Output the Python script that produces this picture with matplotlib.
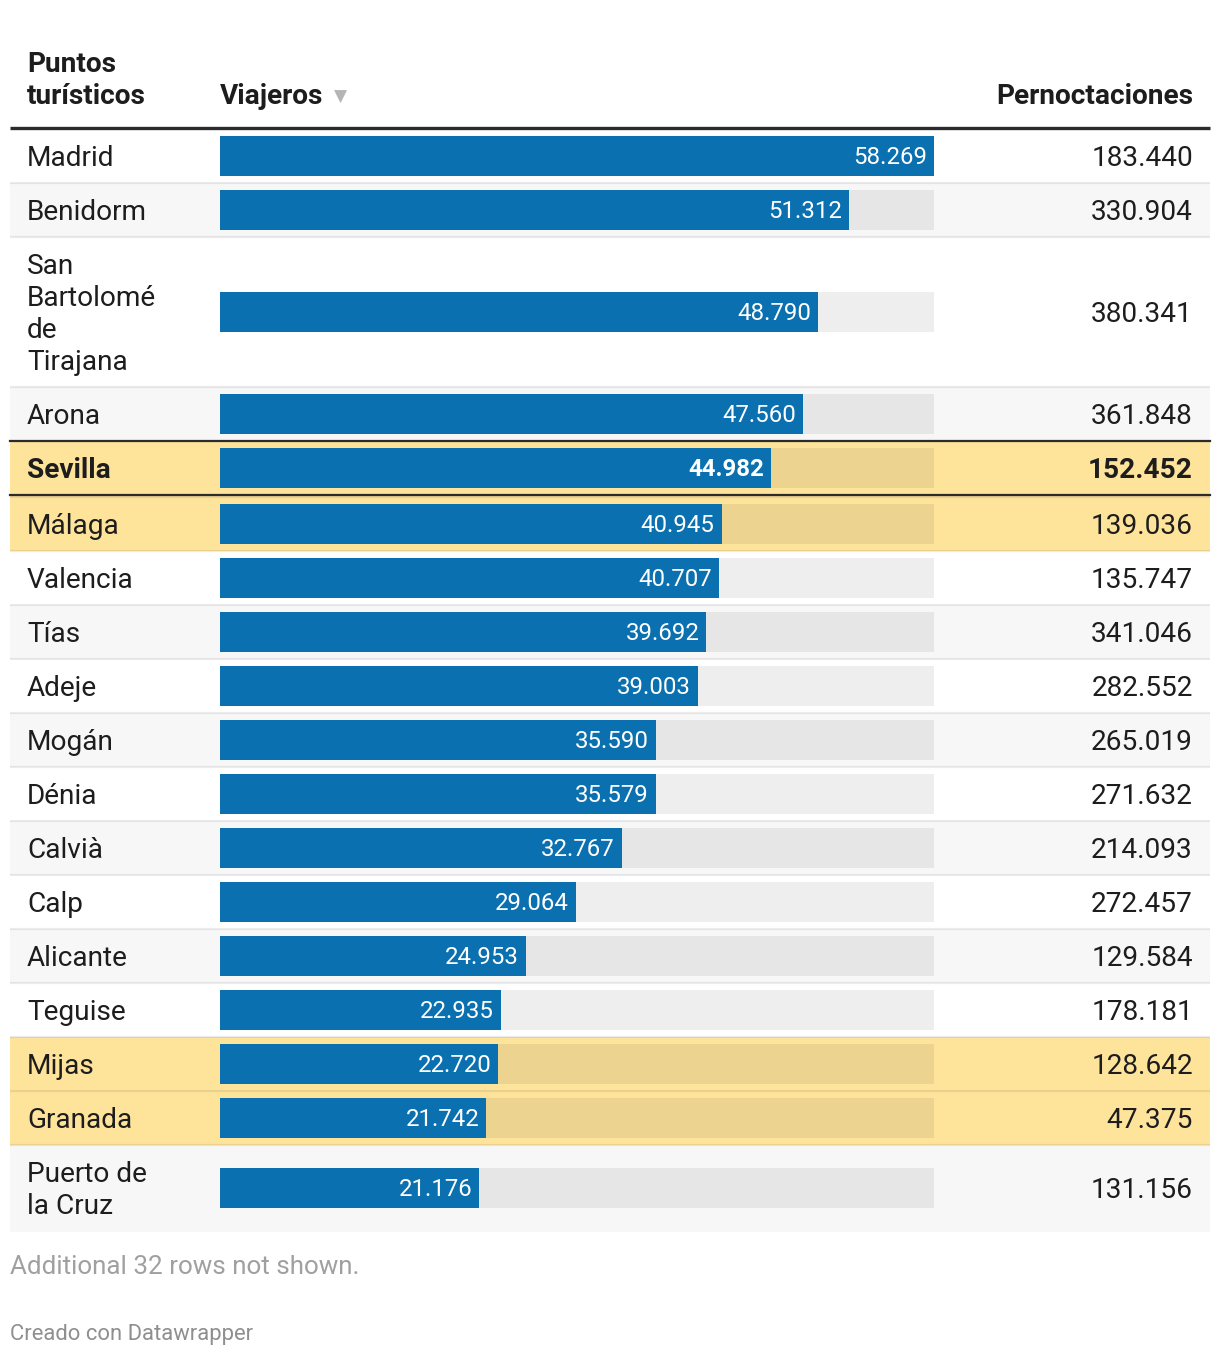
import numpy as np
import matplotlib.pyplot as plt
from matplotlib.patches import Rectangle

# data
lugares = ["Madrid", "Benidorm", "San\nBartolomé\nde\nTirajana", "Arona", "Sevilla",
           "Málaga", "Valencia", "Tías", "Adeje", "Mogán", "Dénia", "Calvià", "Calp",
           "Alicante", "Teguise", "Mijas", "Granada", "Puerto de\nla Cruz"]
viajeros = [58269, 51312, 48790, 47560, 44982, 40945, 40707, 39692, 39003, 35590,
            35579, 32767, 29064, 24953, 22935, 22720, 21742, 21176]
pernoctaciones = [183440, 330904, 380341, 361848, 152452, 139036, 135747, 341046,
                  282552, 265019, 271632, 214093, 272457, 129584, 178181, 128642,
                  47375, 131156]
destacados = ["Sevilla", "Málaga", "Mijas", "Granada"]
negrita = ["Sevilla"]

def fmt(v):
    return f"{v:,}".replace(",", ".")

W, H = 1220, 1356
PX = 0.72  # px -> pt at dpi 100
plt.rcParams['font.family'] = ['Roboto', 'DejaVu Sans']

fig = plt.figure(figsize=(W / 100, H / 100), dpi=100)
ax = fig.add_axes([0, 0, 1, 1])
ax.set_xlim(0, W)
ax.set_ylim(H, 0)
ax.axis('off')

BAR_X0, BAR_X1 = 220, 934
bx = fig.add_axes([BAR_X0 / W, 0, (BAR_X1 - BAR_X0) / W, 1])
bx.set_xlim(0, max(viajeros))
bx.set_ylim(H, 0)
bx.axis('off')
bx.patch.set_alpha(0)

TXT = '#1d1d1d'
BODY = 28 * PX
SMALL = 24 * PX
LEFT, RIGHT = 10, 1210

# header
ax.text(27, 72, "Puntos", fontsize=BODY, fontweight='bold', color=TXT, va='baseline')
ax.text(27, 104, "turísticos", fontsize=BODY, fontweight='bold', color=TXT, va='baseline')
ax.text(220, 104, "Viajeros", fontsize=BODY, fontweight='bold', color=TXT, va='baseline')
ax.text(334, 102, "▼", fontsize=17 * PX, color='#b5b5b5', va='baseline',
        family=['DejaVu Sans'])
ax.text(1193, 104, "Pernoctaciones", fontsize=BODY, fontweight='bold', color=TXT,
        va='baseline', ha='right')

y = 129
rows = []
for i, lab in enumerate(lugares):
    n = lab.count("\n") + 1
    h = 54 + (n - 1) * 32
    if n == 2:
        h = 85
    rows.append((y, h))
    y += h
    if lab in negrita:
        y += 2

for i, lab in enumerate(lugares):
    top, h = rows[i]
    c = top + h / 2
    name = lab.replace("\n", " ")
    hl = name in destacados
    bold = name in negrita
    if hl:
        bg = '#fee39b'
    elif i % 2 == 1:
        bg = '#f7f7f7'
    else:
        bg = 'white'
    ax.add_patch(Rectangle((LEFT, top - 2 if i > 0 and lugares[i - 1] in negrita else top),
                           RIGHT - LEFT, h + 2, color=bg, lw=0, zorder=0))
    if i > 0:
        ax.plot([LEFT, RIGHT], [top, top], color='black', alpha=0.08, lw=1.6, zorder=1,
                solid_capstyle='butt')
    wt = 'bold' if bold else 'normal'
    lines = lab.split("\n")
    nl = len(lines)
    for k, ln in enumerate(lines):
        ax.text(27, c + 10.5 + (k - (nl - 1) / 2) * 32, ln, fontsize=BODY, color=TXT,
                fontweight=wt, va='baseline')
    ax.text(1193, c + 10.5, fmt(pernoctaciones[i]), fontsize=BODY, color=TXT,
            fontweight=wt, va='baseline', ha='right')
    # bar
    bx.barh(c, max(viajeros), height=40, color='black', alpha=0.065, lw=0, zorder=1)
    bx.barh(c, viajeros[i], height=40, color='#0a70b0', lw=0, zorder=2)
    bx.annotate(fmt(viajeros[i]), (viajeros[i], c + 8), xytext=(-7 * PX, 0),
                textcoords='offset points', ha='right', va='baseline', color='white',
                fontsize=SMALL, fontweight=wt, zorder=3)
    if bold:
        ax.plot([LEFT, RIGHT], [top, top], color='#2b2b2b', lw=1.6, zorder=2)
        ax.plot([LEFT, RIGHT], [top + h, top + h], color='#2b2b2b', lw=1.6, zorder=2)

ax.plot([LEFT, RIGHT], [128, 128], color='#2b2b2b', lw=2.4, zorder=3,
        solid_capstyle='butt')

ax.text(10, 1274, "Additional 32 rows not shown.", fontsize=26 * PX, color='#a0a0a0',
        va='baseline')
ax.text(10, 1340, "Creado con Datawrapper", fontsize=22 * PX, color='#8f8f8f',
        va='baseline')

fig.savefig("out.png", dpi=100)
